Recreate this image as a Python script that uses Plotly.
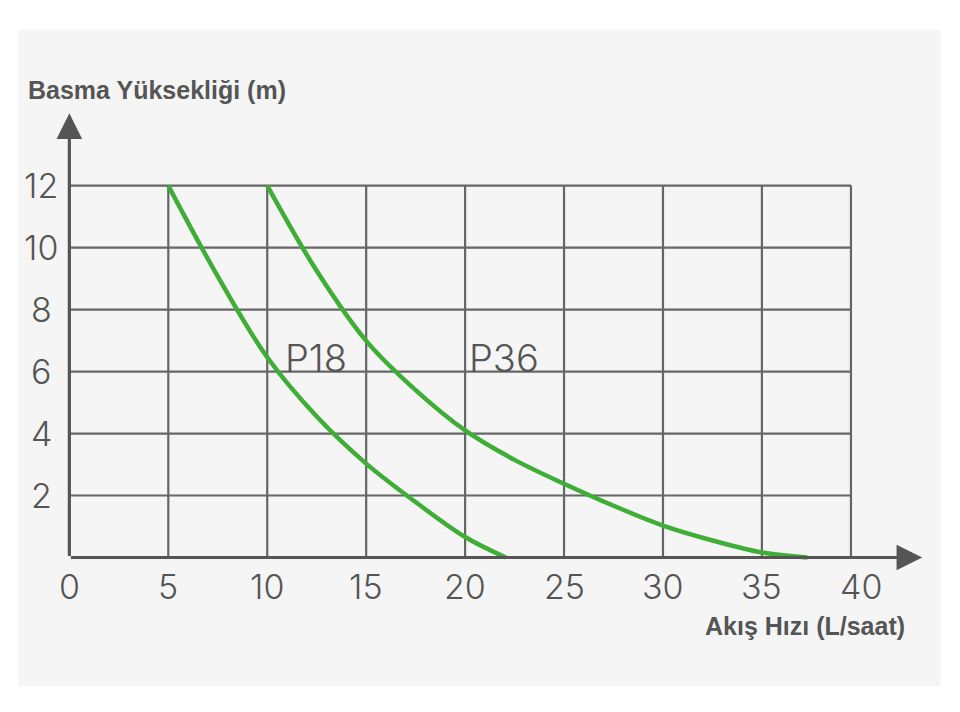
import plotly.graph_objects as go

# ---- data ----
x_ticks = [0, 5, 10, 15, 20, 25, 30, 35, 40]
y_ticks = [2, 4, 6, 8, 10, 12]
p18_x = [5, 7.5, 10, 12.5, 15, 17.5, 20, 22.06]
p18_y = [12, 9.07, 6.46, 4.55, 3.03, 1.79, 0.66, 0]
p36_x = [10, 12.5, 15, 17.5, 20, 22.5, 25, 27.5, 30, 32.5, 35, 37.3]
p36_y = [12, 9.25, 6.99, 5.4, 4.1, 3.15, 2.38, 1.67, 1.03, 0.55, 0.16, 0]
series_labels = ["P18", "P36"]
label_pos = [(12.45, 6.45), (21.95, 6.45)]
y_title = "Basma Yüksekliği (m)"
x_title = "Akış Hızı (L/saat)"

# ---- style ----
GREEN = "#3fae36"
GRID = "#666666"
AXIS = "#555555"
TXT = "#555555"
GRID_RIGHT = 39.5
X_TIP = 43.1
Y_TIP = 14.33

# page has an 8px body margin -> figure pixel = screen pixel - 8
OFF = 8
W, H = 952, 704
L, R, T, B = 1.9, 19.5, 97.1, 108.2
pw, ph = W - L - R, H - T - B


def px_to_paper(sx, sy):
    return (sx - OFF - L) / pw, 1 - (sy - OFF - T) / ph


fig = go.Figure()
for xs, ys in [(p18_x, p18_y), (p36_x, p36_y)]:
    fig.add_trace(go.Scatter(x=xs, y=ys, mode="lines",
                             line=dict(color=GREEN, width=4.5, shape="spline", smoothing=1.0),
                             hoverinfo="skip", showlegend=False, cliponaxis=False))

shapes = []
# grey panel
(px0, py1), (px1, py0) = px_to_paper(18, 30), px_to_paper(941, 686)
shapes.append(dict(type="rect", xref="paper", yref="paper", layer="below",
                   x0=px0, x1=px1, y0=py0, y1=py1, line=dict(width=0), fillcolor="#f5f5f5"))
for yv in y_ticks:
    shapes.append(dict(type="line", xref="x", yref="y", x0=0, x1=GRID_RIGHT, y0=yv, y1=yv,
                       line=dict(color=GRID, width=2.2), layer="below"))
for xv in x_ticks[1:-1] + [GRID_RIGHT]:
    shapes.append(dict(type="line", xref="x", yref="y", x0=xv, x1=xv, y0=0, y1=max(y_ticks),
                       line=dict(color=GRID, width=2.2), layer="below"))

annotations = []
# axis arrows
annotations.append(dict(x=X_TIP, y=0, ax=0, ay=0, xref="x", yref="y", axref="x", ayref="y",
                        text="", showarrow=True, arrowhead=2, arrowsize=1.6, arrowwidth=3.2,
                        arrowcolor=AXIS))
annotations.append(dict(x=0, y=Y_TIP, ax=0, ay=0, xref="x", yref="y", axref="x", ayref="y",
                        text="", showarrow=True, arrowhead=2, arrowsize=1.6, arrowwidth=3.2,
                        arrowcolor=AXIS))
TICKFONT = dict(family="Inter, Lato, sans-serif", size=34, color=TXT, weight=300)
for xv in x_ticks:
    annotations.append(dict(x=xv, y=-0.93, xref="x", yref="y", text=str(xv), showarrow=False,
                            font=TICKFONT, xanchor="center", yanchor="middle"))
for yv in y_ticks:
    annotations.append(dict(x=-1.43, y=yv, xref="x", yref="y", text=str(yv), showarrow=False,
                            font=TICKFONT, xanchor="center", yanchor="middle"))
for lab, (lx, ly) in zip(series_labels, label_pos):
    annotations.append(dict(x=lx, y=ly, xref="x", yref="y", text=lab, showarrow=False,
                            font=dict(family="Inter, Lato, sans-serif", size=38, color=TXT, weight=300),
                            xanchor="center", yanchor="middle"))
TITLEFONT = dict(family="'Liberation Sans', Arial, sans-serif", size=25, color=TXT, weight="bold")
tx, ty = px_to_paper(26, 90)
annotations.append(dict(x=tx, y=ty, xref="paper", yref="paper", text=y_title, showarrow=False,
                        font=TITLEFONT, xanchor="left", yanchor="middle"))
tx, ty = px_to_paper(805, 626)
annotations.append(dict(x=tx, y=ty, xref="paper", yref="paper", text=x_title, showarrow=False,
                        font=TITLEFONT, xanchor="center", yanchor="middle"))

fig.update_layout(
    width=W, height=H,
    margin=dict(l=L, r=R, t=T, b=B, pad=0),
    paper_bgcolor="white", plot_bgcolor="rgba(0,0,0,0)",
    xaxis=dict(range=[-3.0, 44.0], visible=False, fixedrange=True),
    yaxis=dict(range=[-1.5, 14.6], visible=False, fixedrange=True),
    shapes=shapes, annotations=annotations,
)
fig.write_html("out.html")
